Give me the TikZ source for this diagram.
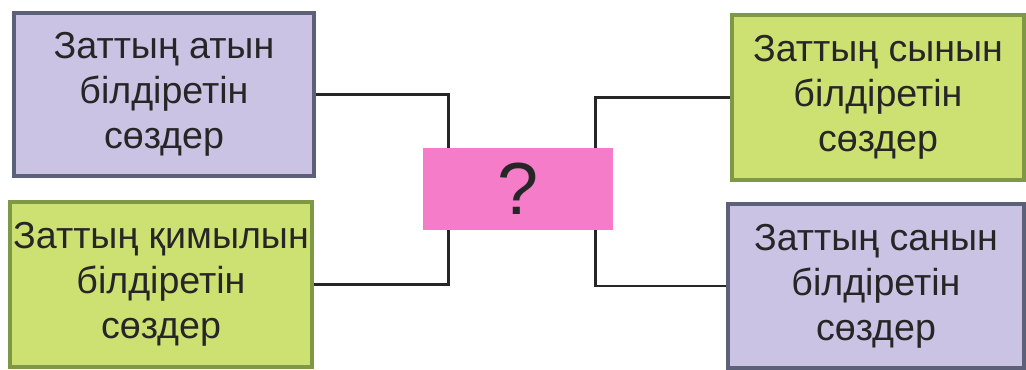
\documentclass[tikz,border=0pt]{standalone}
\usepackage{fontspec}
\setmainfont{Liberation Sans}
\definecolor{lilac}{HTML}{CBC3E4}
\definecolor{lilacline}{HTML}{5C6079}
\definecolor{lime}{HTML}{CDE173}
\definecolor{limeline}{HTML}{7E9845}
\definecolor{pinkq}{HTML}{F47CC9}
\begin{document}
\begin{tikzpicture}[x=1cm,y=1cm,
  word/.style={align=center, inner sep=0pt, text=black!85,
    font=\fontsize{21.4}{25.6}\selectfont},
  lilacbox/.style={word, draw=lilacline, fill=lilac, line width=1.8pt},
  limebox/.style={word, draw=limeline, fill=lime, line width=1.8pt},
  link/.style={draw=black!85, line width=1.6pt}]
\useasboundingbox (0,0) rectangle (20.52,-7.38);

\node[lilacbox, minimum width=6.0cm, minimum height=3.26cm] (atyn) at (3.28,-1.89)
{Заттың атын\\білдіретін\\сөздер};

\node[limebox, minimum width=6.04cm, minimum height=3.3cm] (kimyl) at (3.22,-5.69)
{Заттың қимылын\\білдіретін\\сөздер};

\node[limebox, minimum width=5.84cm, minimum height=3.3cm] (syn) at (17.56,-1.95)
{Заттың сынын\\білдіретін\\сөздер};

\node[lilacbox, minimum width=5.92cm, minimum height=3.28cm] (san) at (17.52,-5.72)
{Заттың санын\\білдіретін\\сөздер};

\node[word, fill=pinkq, minimum width=3.8cm, minimum height=1.64cm,
  font=\fontsize{42}{48}\selectfont] (q) at (10.36,-3.78) {?};

\draw[link] (atyn.east) -| ([xshift=0.52cm]q.north west);
\draw[link] (kimyl.east) -| ([xshift=0.52cm]q.south west);
\draw[link] (syn.west) -| ([xshift=-0.36cm]q.north east);
\draw[link] (san.west) -| ([xshift=-0.36cm]q.south east);
\end{tikzpicture}
\end{document}
